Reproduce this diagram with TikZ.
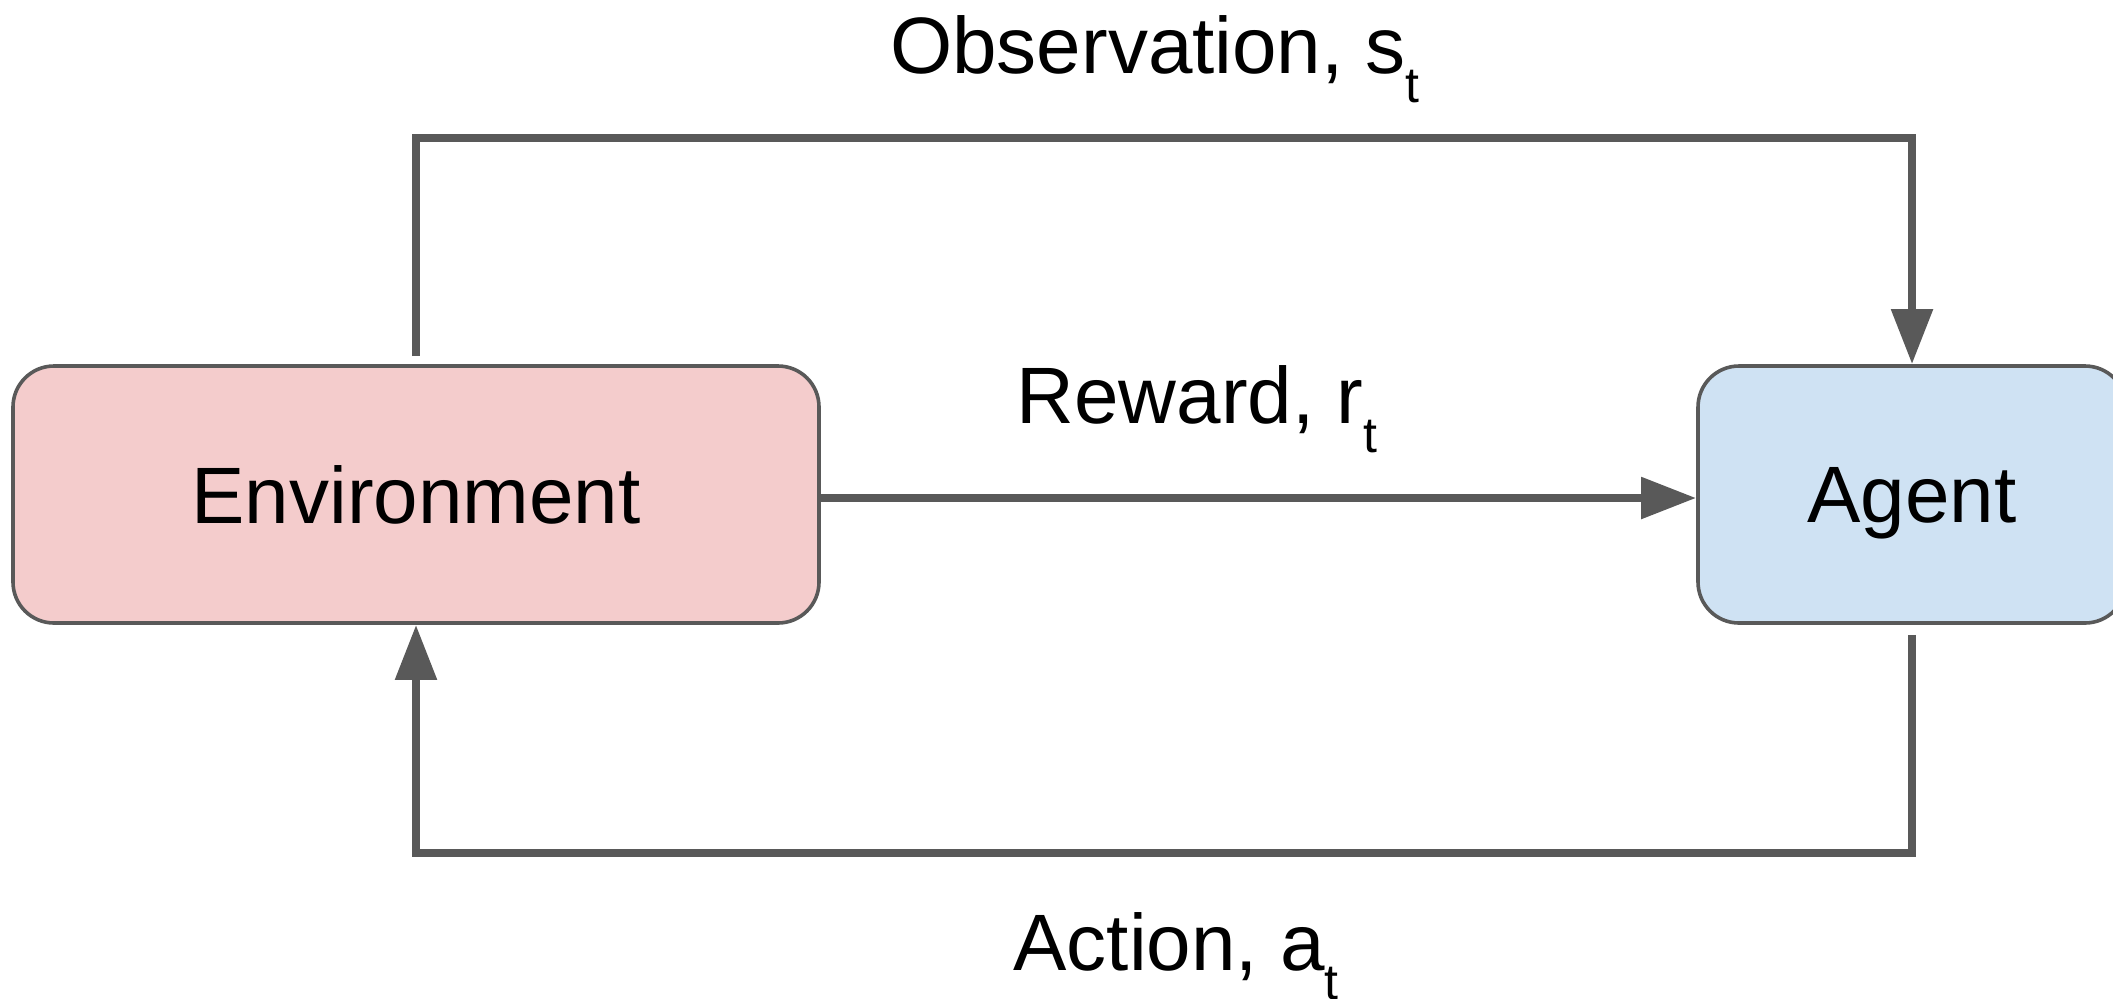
\documentclass[tikz,border=0pt]{standalone}
\usepackage{fontspec}
\setmainfont{Liberation Sans}
\usetikzlibrary{arrows.meta}
\definecolor{edge}{HTML}{595959}
\definecolor{envfill}{HTML}{F4CCCC}
\definecolor{agentfill}{HTML}{CFE2F3}
% lowered, smaller index letter
\newcommand\subt[1]{\raisebox{-14.5pt}{\fontsize{25pt}{25pt}\selectfont #1}}

\begin{document}
\begin{tikzpicture}[x=0.5pt,y=-0.5pt,
  block/.style={draw=edge, line width=1.8pt, rounded corners=20.5pt,
    minimum height=128.5pt, text depth=0pt, inner sep=0pt,
    font=\fontsize{40pt}{48pt}\selectfont},
  flow/.style={draw=edge, line width=4.25pt, line join=miter},
  tip/.style={-{Triangle[length=27.5pt,width=20pt]}},
  lbl/.style={anchor=base, inner sep=0pt, font=\fontsize{40pt}{48pt}\selectfont}]
\useasboundingbox (0,0) rectangle (2113,998);
\clip (0,0) rectangle (2113,998);

% the two blocks
\node[block, fill=envfill, minimum width=403pt] (env) at (416,494.5) {Environment};
\node[block, fill=agentfill, minimum width=214pt] (agent) at (1912,494.5) {Agent};

% heights of the three connector runs
\coordinate (obsy) at (0,138);
\coordinate (rewy) at (0,498);
\coordinate (acty) at (0,853);

% observation: environment -> agent over the top
\draw[flow, tip] ([yshift=4pt]env.north) -- (env.north |- obsy) -| (agent.north);
% reward: straight across
\draw[flow, tip] (env.east |- rewy) -- (agent.west |- rewy);
% action: agent -> environment along the bottom
\draw[flow, tip] ([yshift=-5pt]agent.south) -- (agent.south |- acty) -| (env.south);

% labels
\node[lbl] (obs) at (1155,73) {Observation, s\subt{t}};
\node[lbl] (rew) at (1197,423) {Reward, r\subt{t}};
\node[lbl] (act) at (1176,970) {Action, a\subt{t}};
\end{tikzpicture}
\end{document}
